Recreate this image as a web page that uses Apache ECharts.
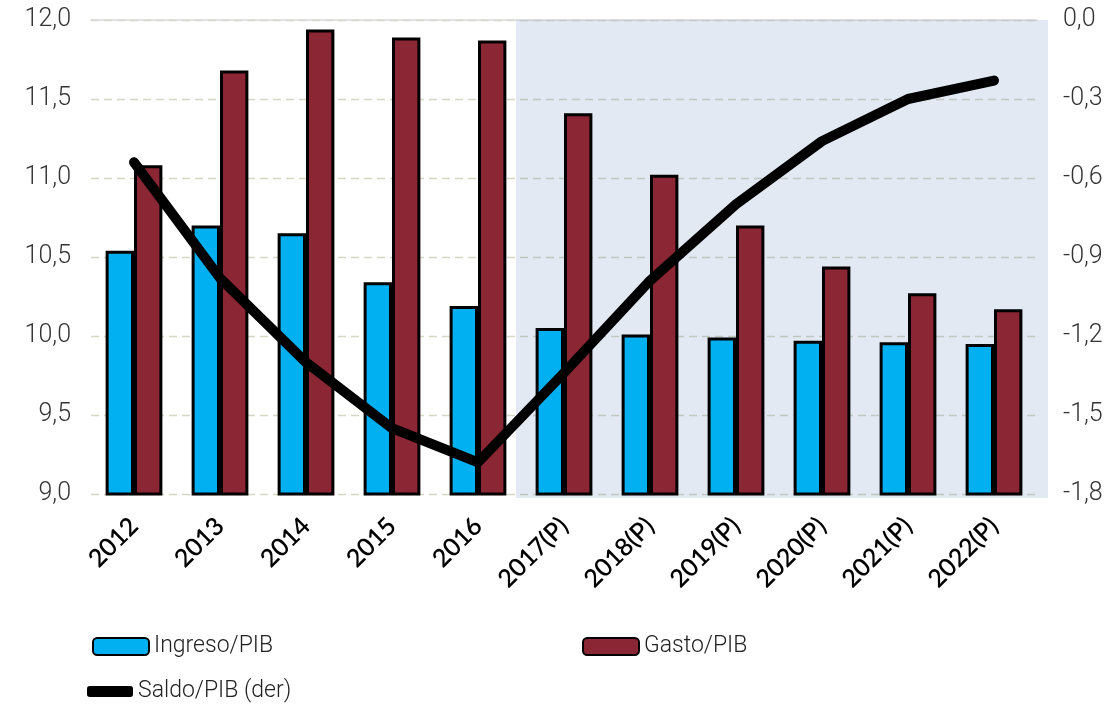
<!DOCTYPE html>
<html>
<head>
<meta charset="utf-8">
<script src="https://cdn.jsdelivr.net/npm/echarts@6/dist/echarts.min.js"></script>
<style>
html,body{margin:0;padding:0;background:#fff;}
#chart{width:1109px;height:709px;}
</style>
</head>
<body>
<div id="chart"></div>
<script>
const categories = ['2012','2013','2014','2015','2016','2017(P)','2018(P)','2019(P)','2020(P)','2021(P)','2022(P)'];
const ingreso = [10.54, 10.70, 10.65, 10.34, 10.19, 10.05, 10.01, 9.99, 9.97, 9.96, 9.95];
const gasto = [11.08, 11.68, 11.94, 11.89, 11.87, 11.41, 11.02, 10.70, 10.44, 10.27, 10.17];
const saldo = [-0.54, -0.98, -1.30, -1.55, -1.68, -1.34, -0.99, -0.70, -0.46, -0.30, -0.23];
const leftTicks = {min: 9.0, max: 12.0, interval: 0.5};
const rightTicks = {min: -1.8, max: 0.0, interval: 0.3};

const labelFont = "'Roboto','Open Sans',sans-serif";
const chart = echarts.init(document.getElementById('chart'), null, {renderer: 'canvas'});
const fmt = v => v.toFixed(1).replace('.', ',');
const legendText = {fontFamily: labelFont, fontSize: 23, color: '#222', fontWeight: 300};

chart.setOption({
  animation: false,
  grid: {left: 91, right: 72, top: 20, bottom: 215, containLabel: false},
  legend: [
    {
      data: ['Ingreso/PIB'], left: 87, top: 630,
      itemWidth: 56, itemHeight: 17, textStyle: legendText
    },
    {
      data: ['Gasto/PIB'], left: 577, top: 630,
      itemWidth: 56, itemHeight: 17, textStyle: legendText
    },
    {
      data: [{name: 'Saldo/PIB (der)', icon: 'roundRect'}],
      left: 82, top: 675,
      itemWidth: 46, itemHeight: 11, textStyle: legendText
    }
  ],
  xAxis: [
    {
      type: 'category', data: categories, position: 'bottom',
      axisLine: {show: false}, axisTick: {show: false},
      axisLabel: {rotate: 45, margin: 28, fontFamily: "'Lato','Open Sans',sans-serif", fontSize: 25, fontWeight: 600, color: '#000', interval: 0}
    },
    {
      type: 'category', data: categories, position: 'top',
      axisLine: {show: true, lineStyle: {color: '#d9d9d9', width: 1.5}},
      axisTick: {show: false}, axisLabel: {show: false}
    }
  ],
  yAxis: [
    {
      type: 'value', min: leftTicks.min, max: leftTicks.max, interval: leftTicks.interval,
      axisLine: {show: false}, axisTick: {show: false},
      axisLabel: {formatter: fmt, margin: 20, fontFamily: labelFont, fontSize: 25, fontWeight: 300, color: '#333'},
      splitLine: {show: true, lineStyle: {color: '#d8d6c4', type: [8, 5], width: 1.3}}
    },
    {
      type: 'value', min: rightTicks.min, max: rightTicks.max, interval: rightTicks.interval,
      position: 'right',
      axisLine: {show: false}, axisTick: {show: false},
      axisLabel: {formatter: fmt, margin: 26, fontFamily: labelFont, fontSize: 25, fontWeight: 300, color: '#333'},
      splitLine: {show: false}
    }
  ],
  series: [
    {
      name: 'Ingreso/PIB', type: 'bar', data: ingreso, yAxisIndex: 0,
      barGap: '0%', barCategoryGap: '34%',
      itemStyle: {color: '#00b0f0', borderColor: '#000', borderWidth: 3},
      z: 2
    },
    {
      name: 'Gasto/PIB', type: 'bar', data: gasto, yAxisIndex: 0,
      barGap: '0%', barCategoryGap: '34%',
      itemStyle: {color: '#8b2635', borderColor: '#000', borderWidth: 3},
      z: 2
    },
    {
      name: 'Saldo/PIB (der)', type: 'line', data: saldo, yAxisIndex: 1,
      symbol: 'none', smooth: false,
      lineStyle: {color: '#000', width: 10, cap: 'round', join: 'round'},
      itemStyle: {color: '#000'},
      z: 3
    },
    {
      name: 'overlay', type: 'line', data: [], yAxisIndex: 0, clip: false,
      silent: true, z: 10,
      markArea: {
        silent: true,
        itemStyle: {color: 'rgba(79,121,182,0.165)'},
        data: [[{x: 516, y: 20}, {x: 1048, y: 498}]]
      }
    }
  ]
});
</script>
</body>
</html>
